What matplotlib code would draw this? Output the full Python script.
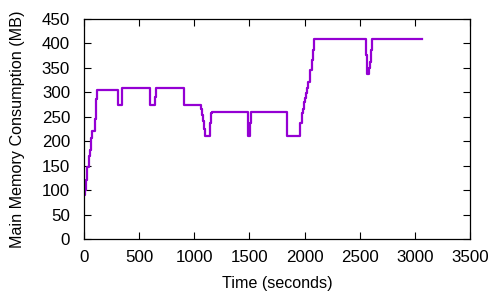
import matplotlib
matplotlib.use("Agg")
import matplotlib.pyplot as plt

time_s = [0, 9, 18, 30, 45, 57, 66, 75, 97, 106, 115, 305, 341, 344, 598, 644, 653,
          906, 1061, 1068, 1076, 1085, 1094, 1140, 1149, 1158, 1487, 1508, 1514,
          1838, 1845, 1958, 1973, 1985, 1994, 2003, 2012, 2021, 2030, 2046, 2064,
          2073, 2082, 2557, 2563, 2584, 2593, 2602, 2611, 3061]
memory_mb = [90, 100, 121, 148, 170, 182, 206, 221, 245, 286, 305, 275, 294, 308, 275, 290, 308,
             275, 265, 253, 242, 224, 211, 237, 257, 260, 211, 237, 260,
             237, 211, 237, 258, 265, 281, 288, 298, 308, 322, 346, 367,
             386, 410, 376, 337, 349, 363, 386, 410, 410]

x_ticks = [0, 500, 1000, 1500, 2000, 2500, 3000, 3500]
y_ticks = [0, 50, 100, 150, 200, 250, 300, 350, 400, 450]

plt.rcParams['font.family'] = ['Liberation Sans', 'DejaVu Sans']
fig = plt.figure(figsize=(5, 3), dpi=100)
ax = fig.add_axes([0.168, 0.2033, 0.772, 0.7334])
ax.plot(time_s, memory_mb, drawstyle='steps-post', color='#9400D3', lw=1.6)
ax.set_xlim(0, 3500)
ax.set_ylim(0, 450)
ax.set_xticks(x_ticks)
ax.set_yticks(y_ticks)
ax.tick_params(direction='in', top=True, right=True, length=5, width=0.8,
               labelsize=12.2)
ax.tick_params(axis='y', pad=10)
ax.tick_params(axis='x', pad=8)
for s in ax.spines.values():
    s.set_linewidth(0.9)
ax.set_xlabel('Time (seconds)', fontsize=11.6, labelpad=8)
ax.set_ylabel('Main Memory Consumption (MB)', fontsize=11.6, labelpad=12)
fig.savefig('out.png', dpi=100)
